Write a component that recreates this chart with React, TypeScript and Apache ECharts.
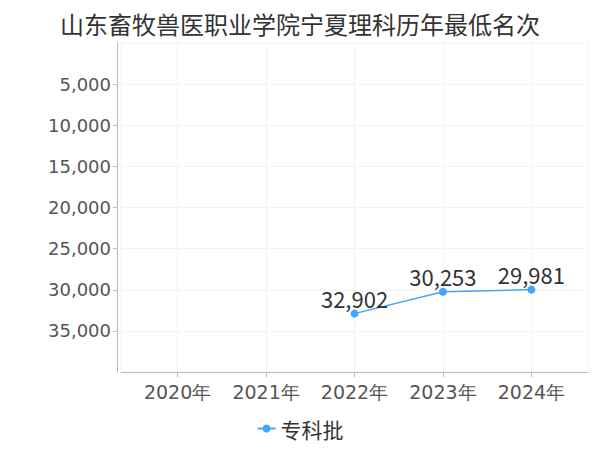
import React, { useEffect, useRef } from "react";
import * as echarts from "echarts";

const title = "山东畜牧兽医职业学院宁夏理科历年最低名次";
const categories = ["2020年", "2021年", "2022年", "2023年", "2024年"];
const seriesName = "专科批";
const seriesYears = ["2022年", "2023年", "2024年"];
const seriesValues = [32902, 30253, 29981];
const yTicks = [0, 5000, 10000, 15000, 20000, 25000, 30000, 35000, 40000];

const FONT = "'DejaVu Sans', sans-serif";
const CJK = "'Noto Sans CJK SC', sans-serif";

export default function App() {
  const ref = useRef<HTMLDivElement>(null);
  useEffect(() => {
    if (!ref.current) return;
    const chart = echarts.init(ref.current, undefined, { renderer: "svg" });
    const data = seriesYears.map((y, i) => [categories.indexOf(y), seriesValues[i]]);
    const catIdx = categories.map((_, i) => i);
    const innerTicks = yTicks.slice(1, -1);
    chart.setOption({
      animation: false,
      textStyle: { fontFamily: FONT },
      title: {
        text: title,
        left: "center",
        top: 6,
        textStyle: { fontSize: 24, fontWeight: "normal", color: "#333", fontFamily: CJK },
      },
      legend: {
        bottom: 6,
        left: "center",
        itemWidth: 18,
        itemHeight: 10,
        textStyle: { fontSize: 21, color: "#333", fontFamily: CJK },
        data: [seriesName],
      },
      grid: {
        left: 121,
        right: 12,
        top: 43,
        bottom: 78,
        show: true,
        borderColor: "#f3f3f3",
        borderWidth: 1,
      },
      xAxis: {
        type: "value",
        min: -0.64,
        max: 4.64,
        splitNumber: 5,
        axisLine: { show: true, onZero: false, lineStyle: { color: "#bbb" } },
        axisTick: { show: true, customValues: catIdx, lineStyle: { color: "#bbb" } },
        axisLabel: {
          customValues: catIdx,
          formatter: (v: number) => categories[Math.round(v)] ?? "",
          fontSize: 19,
          color: "#555",
          margin: 10,
          fontFamily: FONT,
        },
        splitLine: { show: true, lineStyle: { color: "#f3f3f3" } },
      },
      yAxis: {
        type: "value",
        inverse: true,
        min: yTicks[0],
        max: yTicks[yTicks.length - 1],
        interval: 5000,
        offset: 4,
        axisLine: { show: true, onZero: false, lineStyle: { color: "#bbb" } },
        axisTick: { show: true, length: 4, customValues: innerTicks, lineStyle: { color: "#bbb" } },
        axisLabel: {
          fontSize: 18,
          color: "#555",
          margin: 6,
          fontFamily: FONT,
          customValues: innerTicks,
          formatter: (v: number) => v.toLocaleString("en-US"),
        },
        splitLine: { show: true, lineStyle: { color: "#f3f3f3" } },
      },
      series: [
        {
          name: seriesName,
          type: "line",
          data,
          symbol: "circle",
          symbolSize: 8,
          itemStyle: { color: "#40a6ff" },
          lineStyle: { color: "#40a6ff", width: 1.5 },
          label: {
            show: true,
            position: "top",
            distance: 1,
            fontSize: 22,
            color: "#333",
            fontFamily: CJK,
            formatter: (p: any) => Number(p.value[1]).toLocaleString("en-US"),
          },
        },
      ],
    });
    return () => chart.dispose();
  }, []);
  return (
    <div
      ref={ref}
      style={{ position: "absolute", left: 0, top: 0, width: 600, height: 450 }}
    />
  );
}
